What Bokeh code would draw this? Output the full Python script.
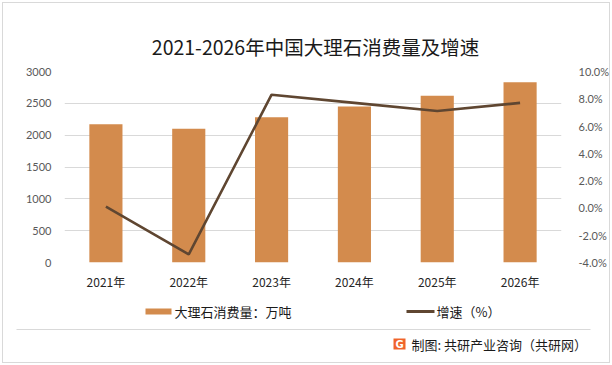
from bokeh.plotting import figure
from bokeh.layouts import column
from bokeh.models import (FactorRange, Range1d, LinearAxis, FixedTicker,
                          PrintfTickFormatter, ColumnDataSource)
from bokeh.core.properties import value
from bokeh.embed import file_html
from bokeh.resources import INLINE

# ---- data ----
years = ["2021年", "2022年", "2023年", "2024年", "2025年", "2026年"]
consumption = [2170, 2100, 2280, 2450, 2620, 2830]       # 万吨
growth = [0.1, -3.4, 8.3, 7.7, 7.1, 7.7]                 # %
left_ticks = [0, 500, 1000, 1500, 2000, 2500, 3000]
right_ticks = [-4, -2, 0, 2, 4, 6, 8, 10]

title_text = "2021-2026年中国大理石消费量及增速"
bar_label = "大理石消费量：万吨"
line_label = "增速（%）"
footer_text = "制图: 共研产业咨询（共研网）"

BAR_COLOR = "#D38B4D"
LINE_COLOR = "#5F4631"
GRID = "#D9D9D9"
TXT = "#1a1a1a"
CJK = "Noto Sans CJK SC"
NUM = "Lato"

W = 612
TOP_H = 61          # page rows 0..61   : title strip
MAIN_H = 231        # page rows 61..292 : chart
BOT_H = 73          # page rows 292..365: legend + footer


def strip(y0, h):
    """A plain drawing strip whose data units equal page pixels (y downward)."""
    f = figure(width=W, height=h, x_range=Range1d(0, W), y_range=Range1d(y0 + h, y0),
               x_axis_type=None, y_axis_type=None, output_backend="svg",
               toolbar_location=None, min_border=0, frame_align=False)
    f.outline_line_color = None
    f.grid.visible = False
    f.background_fill_color = None
    f.border_fill_color = None
    return f


# ---- title strip ----
top = strip(0, TOP_H)
top.text(x=[315], y=[46], text=[title_text], text_font=value(CJK),
         text_font_size="19.5px", text_color=TXT, text_align="center",
         text_baseline="middle")

# ---- main chart ----
src = ColumnDataSource(dict(year=years, consumption=consumption, growth=growth))
p = figure(width=W, height=MAIN_H,
           x_range=FactorRange(factors=years),
           y_range=Range1d(0, 3000),
           output_backend="svg", toolbar_location=None, frame_align=False,
           min_border_left=64, min_border_right=47,
           min_border_top=10, min_border_bottom=30)
p.outline_line_color = None
p.background_fill_color = None
p.border_fill_color = None

ya = p.yaxis[0]
ya.ticker = FixedTicker(ticks=left_ticks)
ya.axis_line_color = None
ya.major_tick_line_color = None
ya.minor_tick_line_color = None
ya.major_label_standoff = 7
ya.major_label_text_font = NUM
ya.major_label_text_font_size = "11px"
ya.major_label_text_color = "#595959"

p.extra_y_ranges = {"pct": Range1d(-4, 10)}
ra = LinearAxis(y_range_name="pct", ticker=FixedTicker(ticks=right_ticks),
                formatter=PrintfTickFormatter(format="%.1f%%"))
ra.axis_line_color = None
ra.major_tick_line_color = None
ra.minor_tick_line_color = None
ra.major_label_standoff = 11
ra.major_label_text_font = NUM
ra.major_label_text_font_size = "11px"
ra.major_label_text_color = "#595959"
p.add_layout(ra, "right")

xa = p.xaxis[0]
xa.axis_line_color = None
xa.major_tick_line_color = None
xa.minor_tick_line_color = None
xa.major_label_standoff = 4
xa.major_label_text_font = CJK
xa.major_label_text_font_size = "12px"
xa.major_label_text_color = "#262626"

p.xgrid.grid_line_color = None
p.ygrid.grid_line_color = GRID
p.ygrid.grid_line_width = 1

p.vbar(x="year", top="consumption", width=0.4, source=src,
       fill_color=BAR_COLOR, line_color=None)
p.line(x="year", y="growth", y_range_name="pct", source=src,
       line_color=LINE_COLOR, line_width=2.6)

# ---- legend + footer strip ----
bot = strip(292, BOT_H)
bot.quad(left=[145], right=[171], top=[308], bottom=[314],
         fill_color=BAR_COLOR, line_color=None)
bot.text(x=[174], y=[311], text=[bar_label], text_font=value(CJK),
         text_font_size="13px", text_color=TXT, text_baseline="middle")
bot.quad(left=[406], right=[434], top=[309.6], bottom=[312.4],
         fill_color=LINE_COLOR, line_color=None)
bot.text(x=[436], y=[311], text=[line_label], text_font=value(CJK),
         text_font_size="13px", text_color=TXT, text_baseline="middle")
# separator
bot.quad(left=[16], right=[590], top=[328.5], bottom=[329.5],
         fill_color=GRID, line_color=None)
# logo + source text
bot.quad(left=[393], right=[405], top=[338], bottom=[349],
         fill_color="#F0642A", line_color=None)
bot.text(x=[399], y=[343.8], text=["G"], text_font=value("DejaVu Sans"),
         text_font_style="bold", text_font_size="10px", text_color="white",
         text_align="center", text_baseline="middle")
bot.text(x=[411], y=[344], text=[footer_text], text_font=value(CJK),
         text_font_size="13px", text_color=TXT, text_baseline="middle")

layout = column(top, p, bot, spacing=0,
                styles={"outline": "1px solid #D9D9D9", "outline-offset": "-3px",
                        "background-color": "white"})

open("out.html", "w").write(file_html(layout, INLINE))
